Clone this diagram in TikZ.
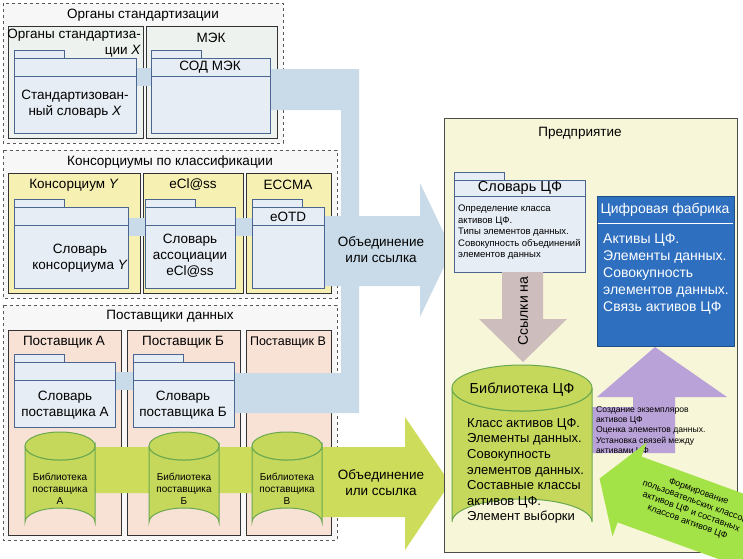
\documentclass[tikz,border=0pt]{standalone}
\usepackage{fontspec}
\setmainfont{Liberation Sans}
\usetikzlibrary{positioning}
\definecolor{bandblue}{HTML}{C9DBE8}
\definecolor{folderfill}{HTML}{E6EDF5}
\definecolor{folderline}{HTML}{4A6690}
\definecolor{stdfill}{HTML}{EDF2EE}
\definecolor{consfill}{HTML}{F6F0B2}
\definecolor{supfill}{HTML}{F8E2D6}
\definecolor{entfill}{HTML}{F8F6D8}
\definecolor{cylfill}{HTML}{C6D85C}
\definecolor{cylline}{HTML}{6AA84F}
\definecolor{greenband}{HTML}{CDDC5A}
\definecolor{fabblue}{HTML}{2E6FC0}
\definecolor{refgray}{HTML}{CDBDBD}
\definecolor{purp}{HTML}{B9A2D8}
\newcommand{\fsz}[1]{\fontsize{#1}{1.2\dimexpr#1pt\relax}\selectfont}
% folder: tab, body, header line
\newcommand{\folderbox}[6]{%
  \draw[folder] (#2,#3-8) rectangle (#2+50,#3);
  \node[folder, anchor=north west, minimum width=#4-#2, minimum height=#5-#3]
    (#1) at (#2,#3) {};
  \draw[folderline] (#2,#6) -- (#4,#6);}
% cylinder: centre x, top, bottom, rx, ry
\newcommand{\cylbox}[6]{%
  \draw[cyl] (#2-#5,#3) -- (#2-#5,#4) arc[start angle=180, end angle=360, x radius=#5, y radius=#6]
    -- (#2+#5,#3) arc[start angle=0, end angle=180, x radius=#5, y radius=#6];
  \draw[cyl] (#2,#3) ellipse[x radius=#5, y radius=#6];
  \coordinate (#1) at (#2,{(#3+#4)/2});}
\tikzset{
  group/.style={draw=gray!70!black, dashed, fill=gray!6},
  sub/.style={draw=black!80, line width=0.8pt},
  folder/.style={draw=folderline, fill=folderfill, inner sep=0pt},
  cyl/.style={draw=cylline, fill=cylfill, line width=1pt},
  band/.style={fill=bandblue, draw=none},
  ttl/.style={font=\fsz{13.5}, align=center, inner sep=0pt},
  small/.style={font=\fsz{9.7}, align=left, inner sep=0pt},
}
\begin{document}
\begin{tikzpicture}[x=1pt, y=-1pt]
\useasboundingbox (0,0) rectangle (743,558);
%% groups
\draw[group] (3,3) rectangle (283,143);
\node[ttl] (gstd) at (143,15) {Органы стандартизации};
\draw[group] (3,150) rectangle (337,298);
\node[ttl] (gcons) at (170,162) {Консорциумы по классификации};
\draw[group] (3,305) rectangle (337,540);
\node[ttl] (gsup) at (170,316) {Поставщики данных};
%% sub groups
\draw[sub, fill=stdfill] (8,26) rectangle (143,138);
\draw[sub, fill=stdfill] (146,26) rectangle (277,138);
\draw[sub, fill=consfill] (8,173) rectangle (140,293);
\draw[sub, fill=consfill] (143,173) rectangle (243,293);
\draw[sub, fill=consfill] (246,173) rectangle (331,293);
\draw[sub, fill=supfill] (8,330) rectangle (121,535);
\draw[sub, fill=supfill] (127,330) rectangle (240,535);
\draw[sub, fill=supfill] (246,330) rectangle (331,535);
\node[ttl, align=right, anchor=north east] (tx) at (141,29) {Органы стандартиза-\\ции \textit{X}};
\node[ttl] (tmek) at (211,38) {МЭК};
\node[ttl] (ty) at (74,185) {Консорциум \textit{Y}};
\node[ttl] (tecl) at (193,185) {eCl@ss};
\node[ttl] (tecc) at (288,185) {ECCMA};
\node[ttl] (ta) at (64,342) {Поставщик А};
\node[ttl] (tb) at (183,342) {Поставщик Б};
\node[ttl, font=\fsz{12.5}] (tv) at (288,342) {Поставщик В};
%% blue band
\fill[band] (270,69) -- (359,69) -- (359,216) -- (420,216) -- (420,183) -- (452,250)
  -- (420,317) -- (420,286) -- (359,286) -- (359,413) -- (234,413) -- (234,373)
  -- (341,373) -- (341,286) -- (324,286) -- (324,216) -- (341,216) -- (341,110) -- (270,110) -- cycle;
\fill[band] (136,68) rectangle (151,86);
\fill[band] (128,218) rectangle (145,236);
\fill[band] (235,218) rectangle (252,236);
\fill[band] (115,372) rectangle (133,390);
\node[ttl] (merge1) at (381,250) {Объединение\\или ссылка};
%% green band
\fill[greenband] (95,447) -- (322,447) -- (405,447) -- (405,417) -- (450,483) -- (405,550)
  -- (405,517) -- (322,517) -- (322,493) -- (95,493) -- cycle;
\node[ttl] (merge2) at (381,483) {Объединение\\или ссылка};
%% folders
\folderbox{fx}{14}{58}{136}{133}{76}
\node[ttl] at (75,104) {Стандартизован-\\ный словарь \textit{X}};
\folderbox{fmek}{151}{58}{270}{133}{76}
\node[ttl] at (210,67) {СОД МЭК};
\folderbox{fy}{14}{207}{128}{288}{225}
\node[ttl] at (80,258) {Словарь\\консорциума \textit{Y}};
\folderbox{fecl}{145}{207}{235}{288}{225}
\node[ttl] at (190,256) {Словарь\\ассоциации\\eCl@ss};
\folderbox{feotd}{252}{207}{324}{288}{225}
\node[ttl] at (288,217) {eOTD};
\folderbox{fa}{14}{362}{115}{427}{380}
\node[ttl] at (65,405) {Словарь\\поставщика А};
\folderbox{fb}{133}{362}{234}{427}{380}
\node[ttl] at (183,405) {Словарь\\поставщика Б};
%% supplier libraries
\cylbox{la}{60}{446}{522}{35}{14}
\node[small, font=\fsz{10}, align=center] at (60,489) {Библиотека\\поставщика\\А};
\cylbox{lb}{184}{446}{522}{35}{14}
\node[small, font=\fsz{10}, align=center] at (184,489) {Библиотека\\поставщика\\Б};
\cylbox{lv}{287}{446}{522}{35}{14}
\node[small, font=\fsz{10}, align=center] at (287,489) {Библиотека\\поставщика\\В};
%% enterprise
\draw[draw=gray!60!black, fill=entfill] (444,118) rectangle (737,552);
\node[ttl] (tent) at (580,133) {Предприятие};
\folderbox{fcf}{454}{180}{585}{272}{196}
\node[ttl, font=\fsz{14.5}] at (520,188) {Словарь ЦФ};
\node[small, font=\fsz{9.5}, anchor=north west] (dcf) at (458,205) {Определение класса\\активов ЦФ.\\Типы элементов данных.\\Совокупность объединений\\элементов данных};
%% references arrow
\fill[refgray] (502,272) -- (543,272) -- (543,319) -- (567,319) -- (523,362) -- (479,319) -- (502,319) -- cycle;
\node[ttl, font=\fsz{14}, rotate=90] (refs) at (523,311) {Ссылки на};
%% digital factory
\node[draw=fabblue!70!black, fill=fabblue, minimum width=137, minimum height=150, anchor=north west, inner sep=0pt] (df) at (597,196) {};
\draw[white, line width=0.8pt] (598,223) -- (733,223);
\node[ttl, white, font=\fsz{14}] at (665,210) {Цифровая фабрика};
\node[white, anchor=north west, align=left, inner sep=0pt, font=\fsz{14}] at (603,234) {Активы ЦФ.\\Элементы данных.\\Совокупность\\элементов данных.\\Связь активов ЦФ};
%% purple arrow
\fill[purp] (592,407) -- (633,407) -- (633,397) -- (597,397) -- (655,347) -- (727,397)
  -- (675,397) -- (675,453) -- (592,453) -- cycle;
\node[small, font=\fsz{8.6}, anchor=north west] (inst) at (596,406) {Создание экземпляров\\активов ЦФ\\Оценка элементов данных.\\Установка связей между\\активами ЦФ};
%% library
\cylbox{lcf}{522}{388}{522}{70}{23}
\node[ttl, font=\fsz{14.5}] at (522,390) {Библиотека ЦФ};
\node[anchor=north west, align=left, inner sep=0pt, font=\fsz{13}] (dlib) at (467,418) {Класс активов ЦФ.\\Элементы данных.\\Совокупность\\элементов данных.\\Составные классы\\активов ЦФ.\\Элемент выборки};
%% custom classes arrow
\begin{scope}[shift={(686,510)}, rotate=-20]
\fill[greenband!80!green] (-92,0) -- (-60,-50) -- (-60,-35) -- (75,-35) -- (75,35) -- (-60,35) -- (-60,50) -- cycle;
\end{scope}
\node[font=\fsz{9}, align=center, inner sep=0pt, rotate=-20] (cust) at (693,507) {Формирование\\пользовательских классов\\активов ЦФ и составных\\классов активов ЦФ};
\end{tikzpicture}
\end{document}
